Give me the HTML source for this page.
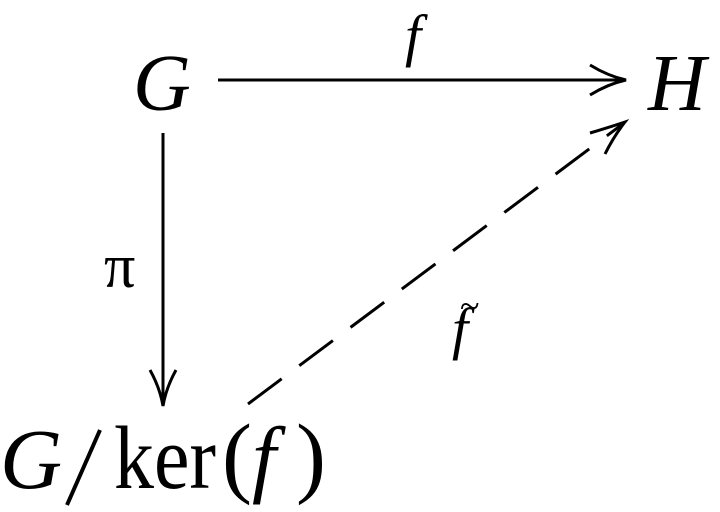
<!DOCTYPE html>
<html><head><style>
html,body{margin:0;padding:0;background:#fff;}
svg{display:block;}
text{font-family:"Liberation Serif",serif;fill:#000;}
</style></head><body>
<svg width="720" height="512" viewBox="0 0 720 512" xmlns="http://www.w3.org/2000/svg">
<text x="133" y="110" font-size="80" font-style="italic">G</text>
<text x="648" y="110" font-size="80" font-style="italic">H</text>
<text x="405" y="55" font-size="58" font-style="italic">f</text>
<text x="104" y="287" font-size="62">π</text>
<text x="452" y="348" font-size="58" font-style="italic">f</text>
<text x="460" y="318" font-size="36">~</text>
<line x1="218" y1="80" x2="624" y2="80" stroke="#000" stroke-width="3"/>
<path d="M590 65 Q608 76 626 80 Q608 84 590 95" fill="none" stroke="#000" stroke-width="3"/>
<line x1="163" y1="133" x2="163" y2="404" stroke="#000" stroke-width="3"/>
<path d="M150 370 Q160 388 163 406 Q166 388 176 370" fill="none" stroke="#000" stroke-width="3"/>
<line x1="248" y1="404" x2="624" y2="123" stroke="#000" stroke-width="3" stroke-dasharray="42,22"/>
<path d="M590 133 Q607 128 625 122 Q614 136 605 154" fill="none" stroke="#000" stroke-width="3"/>
<text x="0" y="488" font-size="86" font-style="italic">G</text>
<line x1="100" y1="430" x2="67" y2="505" stroke="#000" stroke-width="4"/>
<text x="114" y="488" font-size="90" textLength="102" lengthAdjust="spacingAndGlyphs">ker</text>
<text x="222" y="486" font-size="90">(</text>
<text x="252" y="486" font-size="86" font-style="italic">f</text>
<text x="296" y="486" font-size="90">)</text>
</svg>
</body></html>
